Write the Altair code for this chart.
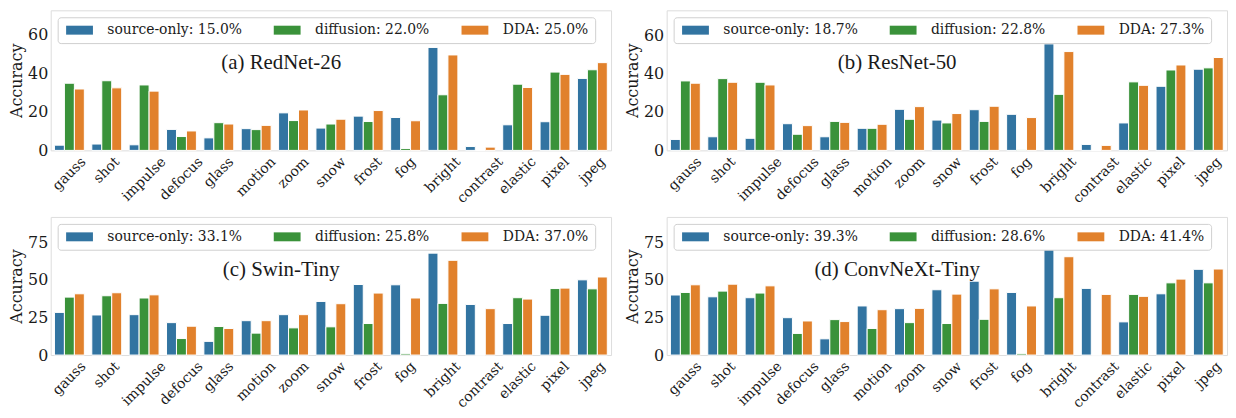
import altair as alt
import pandas as pd

CATS = ["gauss", "shot", "impulse", "defocus", "glass", "motion", "zoom", "snow",
        "frost", "fog", "bright", "contrast", "elastic", "pixel", "jpeg"]
SERIES = ["source-only", "diffusion", "DDA"]
COLORS = ["#3274a1", "#3a923a", "#e1812c"]

TITLES = ["(a) RedNet-26", "(b) ResNet-50", "(c) Swin-Tiny", "(d) ConvNeXt-Tiny"]
PCTS_A = ["15.0%", "22.0%", "25.0%"]
PCTS_B = ["18.7%", "22.8%", "27.3%"]
PCTS_C = ["33.1%", "25.8%", "37.0%"]
PCTS_D = ["39.3%", "28.6%", "41.4%"]

A_SRC = [2.7, 3.3, 2.9, 10.9, 6.5, 11.3, 19.5, 11.6, 17.8, 17.1, 53.5, 2.0, 13.3, 14.9, 37.4]
A_DIF = [34.9, 36.2, 34.0, 7.2, 14.4, 10.8, 15.5, 13.7, 15.0, 1.0, 28.9, 0.0, 34.4, 40.7, 41.9]
A_DDA = [31.9, 32.5, 30.8, 10.1, 13.7, 13.0, 21.0, 16.2, 20.7, 15.4, 49.6, 1.7, 32.7, 39.5, 45.6]

B_SRC = [5.7, 7.1, 6.3, 13.9, 7.1, 11.5, 21.4, 15.8, 21.2, 18.8, 55.5, 3.1, 14.3, 33.4, 42.3]
B_DIF = [36.2, 37.4, 35.5, 8.4, 15.1, 11.5, 16.2, 14.3, 15.1, 0.5, 29.2, 0.0, 35.7, 41.9, 43.0]
B_DDA = [35.0, 35.5, 34.1, 12.9, 14.6, 13.6, 22.8, 19.2, 23.0, 17.1, 51.5, 2.6, 33.9, 44.5, 48.4]

C_SRC = [28.4, 26.7, 26.9, 21.6, 9.1, 22.9, 26.9, 35.7, 47.0, 46.8, 67.9, 33.7, 21.0, 26.5, 50.1]
C_DIF = [38.6, 39.5, 38.0, 11.0, 19.0, 14.6, 18.1, 18.8, 21.0, 0.9, 34.4, 0.0, 38.2, 44.3, 44.1]
C_DDA = [40.8, 41.5, 40.1, 19.2, 17.7, 22.9, 26.9, 34.2, 41.3, 38.0, 63.1, 30.9, 37.3, 44.6, 52.0]

D_SRC = [40.0, 38.8, 38.2, 24.9, 10.8, 32.7, 30.9, 43.5, 49.2, 41.7, 70.4, 44.4, 22.1, 40.8, 57.1]
D_DIF = [41.7, 42.6, 41.3, 14.4, 23.6, 17.7, 21.6, 21.0, 23.8, 0.9, 38.2, 0.0, 40.4, 48.1, 48.1]
D_DDA = [46.8, 47.2, 46.1, 22.7, 22.3, 30.2, 31.1, 40.6, 44.1, 32.7, 65.5, 40.4, 39.1, 50.6, 57.3]

FONT = "DejaVu Serif"
TXT = "#1a1a1a"
XFS = 14

# approximate DejaVu Serif advance widths (em) to emulate matplotlib's centered rotated labels
CW = {"a": .596, "b": .640, "c": .560, "d": .640, "e": .592, "f": .370, "g": .640, "h": .644,
      "i": .320, "j": .310, "k": .610, "l": .320, "m": .948, "n": .644, "o": .602, "p": .640,
      "q": .640, "r": .478, "s": .513, "t": .402, "u": .644, "v": .565, "w": .856, "x": .564,
      "y": .565, "z": .523}


def label_offset_cond():
    conds = []
    for c in CATS:
        L = sum(CW.get(ch, 0.6) for ch in c) * XFS
        off = 0.354 * (L - 1.0 * XFS)
        conds.append({"test": f"datum.label == '{c}'", "value": round(off, 1)})
    return {"condition": conds, "value": 0}


def panel(title, pcts, src, dif, dda, ymax, ticks, h, ty):
    labels = [f"{s}: {p}" for s, p in zip(SERIES, pcts)]
    rows = []
    for vals, s, lab in zip([src, dif, dda], SERIES, labels):
        for c, v in zip(CATS, vals):
            rows.append({"cat": c, "series": s, "label": lab, "value": v})
    df = pd.DataFrame(rows)
    bars = alt.Chart(df).mark_bar(stroke="white", strokeWidth=1).encode(
        x=alt.X("cat:N", sort=CATS,
                scale=alt.Scale(paddingInner=0.2, paddingOuter=0.1),
                axis=alt.Axis(title=None, labelAngle=-45, labelAlign="right", labelBaseline="top",
                              labelOffset=label_offset_cond(), labelPadding=4, ticks=False,
                              domain=False, labelOverlap=False, labelBound=False,
                              labelFont=FONT, labelFontSize=XFS, labelColor=TXT)),
        xOffset=alt.XOffset("series:N", sort=SERIES,
                            scale=alt.Scale(paddingInner=0, paddingOuter=0)),
        y=alt.Y("value:Q", scale=alt.Scale(domain=[0, ymax], nice=False, zero=True),
                axis=alt.Axis(title="Accuracy", values=ticks, ticks=False, domain=False, grid=False,
                              labelFont=FONT, labelFontSize=16, labelColor=TXT, labelPadding=3,
                              titleFont=FONT, titleFontSize=16, titleFontWeight="normal",
                              titleColor=TXT, titlePadding=3)),
        color=alt.Color("label:N", sort=labels,
                        scale=alt.Scale(domain=labels, range=COLORS),
                        legend=alt.Legend(title=None, orient="none", legendX=7, legendY=7,
                                          direction="horizontal", columns=3,
                                          symbolType="M-1,-1H5V1H-1Z", symbolSize=81,
                                          symbolStrokeWidth=0,
                                          labelFont=FONT, labelFontSize=14, labelColor=TXT,
                                          labelOffset=30, columnPadding=29, rowPadding=0,
                                          padding=6, fillColor="white", strokeColor="#d0d0d0",
                                          cornerRadius=3, labelLimit=0)),
    )
    txt = alt.Chart(pd.DataFrame({"t": [title]})).mark_text(
        font="Liberation Serif", fontSize=21, color=TXT, align="center", baseline="middle"
    ).encode(text="t:N", x=alt.value(232), y=alt.value(ty))
    return alt.layer(bars, txt).properties(width=564, height=h)


pa = panel(TITLES[0], PCTS_A, A_SRC, A_DIF, A_DDA, 72.8, [0, 20, 40, 60], 141, 53)
pb = panel(TITLES[1], PCTS_B, B_SRC, B_DIF, B_DDA, 73.0, [0, 20, 40, 60], 141, 53)
pc = panel(TITLES[2], PCTS_C, C_SRC, C_DIF, C_DDA, 92.0, [0, 25, 50, 75], 139, 53)
pd_ = panel(TITLES[3], PCTS_D, D_SRC, D_DIF, D_DDA, 92.0, [0, 25, 50, 75], 139, 53)


def ind(ch):
    return ch.resolve_scale(color="independent", y="independent", x="independent",
                            xOffset="independent").resolve_legend(color="independent")


row1 = ind(alt.hconcat(pa, pb, spacing=12))
row2 = ind(alt.hconcat(pc, pd_, spacing=12))
chart = ind(alt.vconcat(row1, row2, spacing=10)).properties(
    padding={"left": 0, "top": 0, "right": 0, "bottom": 0}
).configure_view(stroke="#444444", strokeWidth=1.25).configure(background="white")

chart.save("out.html", embed_options={"renderer": "svg", "actions": False})
